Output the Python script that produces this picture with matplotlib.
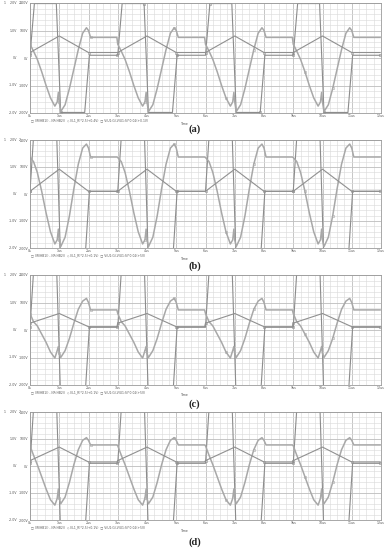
import numpy as np
import matplotlib
matplotlib.use("Agg")
import matplotlib.pyplot as plt
from matplotlib.ticker import MultipleLocator
from matplotlib.transforms import blended_transform_factory

# ---------------- data ----------------
period_starts = [0.0, 3.0, 6.0, 9.0]
x_ticks = list(range(13))
x_tick_labels = ["0s", "1us", "2us", "3us", "4us", "5us", "6us", "7us", "8us",
                 "9us", "10us", "11us", "12us"]
y_ticks = [2, 1, 0, -1, -2]
outer_labels = ["2.0V", "1.0V", "0V", "-1.0V", "-2.0V"]
inner_labels = ["200V", "100V", "0V", "-100V", "-200V"]
captions = ["(a)", "(b)", "(c)", "(d)"]
legend_texts = [
    "\u25a1 I(R(HB1)) - I(R(HB2))  \u25c7 I(L1_R)*2.5(+0.4V)  \u25a1 V(U1:G)-V(U1:S)*0.02(+0.1V)",
    "\u25a1 I(R(HB1)) - I(R(HB2))  \u25c7 I(L1_R)*2.5(+0.1V)  \u25a1 V(U1:G)-V(U1:S)*0.02(+5V)",
    "\u25a1 I(R(HB1)) - I(R(HB2))  \u25c7 I(L1_R)*2.5(+0.1V)  \u25a1 V(U1:G)-V(U1:S)*0.02(+5V)",
    "\u25a1 I(R(HB1)) - I(R(HB2))  \u25c7 I(L1_R)*2.5(+0.1V)  \u25a1 V(U1:G)-V(U1:S)*0.02(+5V)",
]

# one-period keypoints (time in tick units relative to period start)
sq_t = [0.0, 0.15, 0.9, 1.05, 1.87, 2.03, 2.97]
sq_a_y = [0.1, 1.98, 1.98, -1.98, -1.98, 0.1, 0.1]
sq_b_y = [0.1, 2.6, 2.6, -2.6, -2.6, 0.1, 0.1]
sq_c_y = [0.1, 2.6, 2.6, -2.6, -2.6, 0.1, 0.1]
sq_d_y = [0.1, 2.6, 2.6, -2.6, -2.6, 0.1, 0.1]

cur_t = [0.0, 0.12, 0.25, 0.4, 0.55, 0.7, 0.85, 0.93, 0.97, 1.0, 1.05, 1.2,
         1.35, 1.5, 1.65, 1.8, 1.93, 2.0, 2.07, 2.97]
cur_a_y = [0.5, 0.25, -0.05, -0.5, -1.0, -1.45, -1.75, -1.6, -1.25, -1.6, -1.95,
           -1.7, -1.1, -0.4, 0.3, 0.9, 1.1, 1.0, 0.75, 0.75]
cur_b_y = [1.35, 1.2, 0.8, 0.1, -0.7, -1.4, -1.85, -1.7, -1.3, -1.7, -1.95,
           -1.6, -0.8, 0.2, 1.1, 1.7, 1.85, 1.7, 1.37, 1.37]
cur_c_y = [0.6, 0.3, 0.15, -0.15, -0.45, -0.8, -1.02, -0.75, -0.6, -0.85, -1.0,
           -0.75, -0.3, 0.25, 0.75, 1.05, 1.15, 1.0, 0.73, 0.73]
cur_d_y = [0.75, 0.4, 0.05, -0.4, -0.85, -1.25, -1.45, -1.2, -0.85, -1.2, -1.4,
           -1.15, -0.6, 0.05, 0.6, 0.95, 1.05, 0.95, 0.78, 0.78]

tri_t = [0.0, 1.0, 2.0, 2.97]
tri_a_y = [0.2, 0.8, 0.2, 0.2]
tri_b_y = [0.1, 0.92, 0.1, 0.1]
tri_c_y = [0.25, 0.6, 0.12, 0.12]
tri_d_y = [0.2, 0.7, 0.15, 0.15]

panels = [
    (sq_a_y, cur_a_y, tri_a_y),
    (sq_b_y, cur_b_y, tri_b_y),
    (sq_c_y, cur_c_y, tri_c_y),
    (sq_d_y, cur_d_y, tri_d_y),
]

# ---------------- layout ----------------
W, H = 389, 550
fig = plt.figure(figsize=(W / 100, H / 100), dpi=100)
fig.patch.set_facecolor("white")

rows_px = [(3, 113), (140, 248), (275, 385), (412, 520)]
caption_px = [129, 266, 404, 542]
left_px, right_px = 30, 381


def tile(t, y):
    T = np.concatenate([np.asarray(t) + s for s in period_starts])
    Y = np.tile(np.asarray(y, dtype=float), len(period_starts))
    return T, Y


grid_major = "#bdbdbd"
grid_minor = "#dcdcdc"
c_sq = "#8c8c8c"
c_cur = "#a8a8a8"
c_tri = "#909090"
txt_c = "#555555"
fs = 2.3

for i, (sq_y, cur_y, tri_y) in enumerate(panels):
    top, bot = rows_px[i]
    ax = fig.add_axes([left_px / W, 1 - bot / H, (right_px - left_px) / W, (bot - top) / H])
    ax.set_xlim(0, 12)
    ax.set_ylim(-2, 2)
    ax.xaxis.set_minor_locator(MultipleLocator(0.25))
    ax.yaxis.set_minor_locator(MultipleLocator(0.2))
    ax.set_xticks(x_ticks)
    ax.set_xticklabels(x_tick_labels, fontsize=fs, color=txt_c)
    ax.set_yticks(y_ticks)
    ax.set_yticklabels(inner_labels, fontsize=fs, color=txt_c)
    ax.tick_params(which="both", length=0, pad=1.0)
    ax.grid(True, which="minor", color=grid_minor, linewidth=0.45)
    ax.grid(True, which="major", color=grid_major, linewidth=0.6)
    ax.set_axisbelow(True)
    for sp in ax.spines.values():
        sp.set_color("#9a9a9a")
        sp.set_linewidth(0.6)

    T, Y = tile(sq_t, sq_y)
    ax.plot(T, Y, color=c_sq, lw=0.8, marker="o", ms=1.8, mfc="none", mew=0.4,
            markevery=3)
    T, Y = tile(cur_t, cur_y)
    ax.plot(T, Y, color=c_cur, lw=1.1, marker="o", ms=1.8, mfc="none", mew=0.4,
            markevery=9)
    T, Y = tile(tri_t, tri_y)
    ax.plot(T, Y, color=c_tri, lw=0.8, marker="o", ms=1.8, mfc="none", mew=0.4,
            markevery=2)

    # outer axis labels
    trans = blended_transform_factory(fig.transFigure, ax.transData)
    for yv, lab in zip(y_ticks, outer_labels):
        ax.text(17 / W, yv, lab, transform=trans, ha="right", va="center",
                fontsize=fs, color=txt_c)
    ax.text(5 / W, 2, "1", transform=trans, ha="center", va="center",
            fontsize=fs, color=txt_c)
    ax.text(20 / W, 2, "2", transform=trans, ha="center", va="center",
            fontsize=fs, color=txt_c)

    # legend line and Time label
    fig.text(left_px / W + 0.002, 1 - (bot + 7) / H, legend_texts[i], fontsize=2.2,
             color=txt_c, ha="left", va="center")
    fig.text(0.475, 1 - (bot + 10.5) / H, "Time", fontsize=fs, color=txt_c,
             ha="center", va="center")
    fig.text(0.5, 1 - caption_px[i] / H, captions[i], fontsize=7.5, fontweight="bold",
             family="Liberation Serif", ha="center", va="center", color="#222222")

fig.savefig("out.png", dpi=100, facecolor="white")
